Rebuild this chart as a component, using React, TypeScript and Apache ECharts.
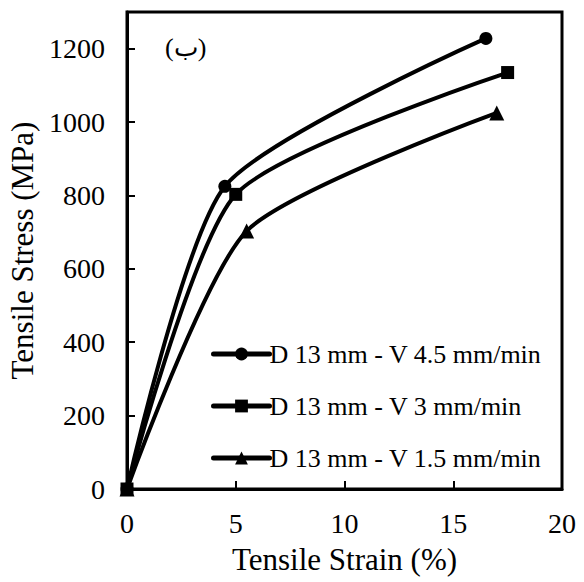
import React, { useEffect, useRef } from "react";
import * as echarts from "echarts";

const seriesNames = [
  "D 13 mm - V 4.5 mm/min",
  "D 13 mm - V 3 mm/min",
  "D 13 mm - V 1.5 mm/min",
];
const seriesSymbols = ["circle", "rect", "triangle"];
const strainV45 = [0, 4.5, 16.5];
const stressV45 = [0, 825, 1228];
const strainV3 = [0, 5, 17.5];
const stressV3 = [0, 803, 1135];
const strainV15 = [0, 5.5, 17];
const stressV15 = [0, 703, 1025];
const xTicks = [0, 5, 10, 15, 20];
const yTicks = [0, 200, 400, 600, 800, 1000, 1200];

const FONT = "Liberation Serif";

export default function App() {
  const ref = useRef<HTMLDivElement>(null);
  useEffect(() => {
    if (!ref.current) return;
    const chart = echarts.init(ref.current, null, { renderer: "svg" });
    const pairs = [
      [strainV45, stressV45],
      [strainV3, stressV3],
      [strainV15, stressV15],
    ];
    const series = pairs.map((p, i) => ({
      name: seriesNames[i],
      type: "line",
      smooth: 0.22,
      data: p[0].map((x, j) => [x, p[1][j]]),
      symbol: seriesSymbols[i],
      symbolSize: i === 2 ? 15 : 13,
      showAllSymbol: true,
      lineStyle: { color: "#000", width: 4 },
      itemStyle: { color: "#000", borderWidth: 0 },
      emphasis: { disabled: true },
    }));
    chart.setOption({
      animation: false,
      backgroundColor: "#fff",
      textStyle: { fontFamily: FONT },
      grid: {
        left: 127,
        right: 22,
        top: 12,
        bottom: 93,
        show: true,
        borderColor: "#000",
        borderWidth: 3,
        containLabel: false,
        outerBoundsMode: "none",
      },
      legend: {
        orient: "vertical",
        left: 206,
        top: 336,
        itemWidth: 56,
        itemHeight: 16,
        itemGap: 26,
        data: seriesNames,
        lineStyle: { width: 5, cap: "round" },
        textStyle: { fontFamily: FONT, fontSize: 26, color: "#000", padding: [0, 0, 0, -5] },
        selectedMode: false,
      },
      xAxis: {
        type: "value",
        min: xTicks[0],
        max: xTicks[xTicks.length - 1],
        interval: 5,
        name: "Tensile Strain (%)",
        nameLocation: "middle",
        nameGap: 55,
        nameTextStyle: { fontFamily: FONT, fontSize: 31, color: "#000" },
        axisLine: { show: true, lineStyle: { color: "#000", width: 3 } },
        axisTick: { show: true, inside: true, length: 8, lineStyle: { color: "#000", width: 2 } },
        axisLabel: { fontFamily: FONT, fontSize: 28, color: "#000", margin: 20, formatter: (v: number) => String(v) },
        splitLine: { show: false },
      },
      yAxis: {
        type: "value",
        min: yTicks[0],
        max: 1300,
        interval: 200,
        name: "Tensile Stress (MPa)",
        nameLocation: "middle",
        nameGap: 80,
        nameTextStyle: { fontFamily: FONT, fontSize: 31, color: "#000" },
        axisLine: { show: true, lineStyle: { color: "#000", width: 3 } },
        axisTick: { show: true, inside: true, length: 8, lineStyle: { color: "#000", width: 2 } },
        axisLabel: {
          fontFamily: FONT,
          fontSize: 28,
          color: "#000",
          margin: 22,
          showMaxLabel: false,
          formatter: (v: number) => (yTicks.indexOf(v) >= 0 ? String(v) : ""),
        },
        splitLine: { show: false },
      },
      graphic: [
        {
          type: "text",
          left: 165,
          top: 34,
          style: { text: "(ب)", fontFamily: FONT, fontSize: 26, fill: "#000" },
        },
      ],
      series,
    });
    return () => chart.dispose();
  }, []);
  return <div ref={ref} style={{ width: 584, height: 582, position: "absolute", left: 0, top: 0 }} />;
}
